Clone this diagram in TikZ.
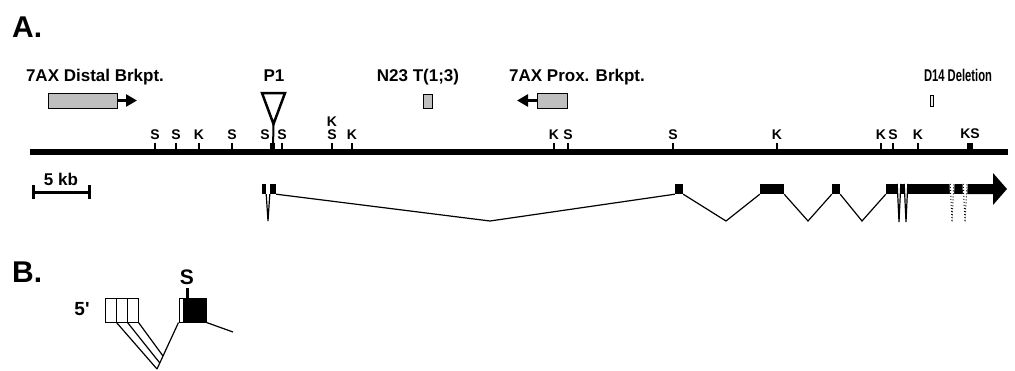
\documentclass[tikz,border=0pt]{standalone}
\usepackage{fontspec}
\setmainfont{Liberation Sans}
\newfontfamily\straightfont{Liberation Sans}
\usetikzlibrary{arrows.meta}

\begin{document}
\begin{tikzpicture}[x=1pt,y=-1pt, every node/.style={inner sep=0pt},
    lab/.style={font=\fontsize{17}{20}\selectfont\bfseries, anchor=base},
    site/.style={font=\fontsize{14}{16}\selectfont\bfseries, anchor=base},
    big/.style={font=\fontsize{30}{32}\selectfont\bfseries, anchor=base west},
    brk/.style={draw, fill=gray!50, line width=0.8pt},
    brkarrow/.style={line width=2.5pt, -{Triangle[length=11pt,width=12pt]}},
    exon/.style={fill=black, minimum height=10pt},
    intron/.style={line width=1.2pt},
    openex/.style={draw, line width=1pt, minimum height=24pt}]

  \useasboundingbox (0,0) rectangle (1015,370);

  % --- A: restriction map ---
  \node[big] (pa) at (12,37) {A.};

  \coordinate (m0) at (30,151.5);
  \coordinate (m1) at (1008,151.5);
  \draw[line width=6pt] (m0) -- (m1);

  \foreach \x/\lab in {155/S,176/S,199/K,232/S,282/S,352/K,554/K,568/S,673/S,777/K,881/K,893/S,918/K}{
    \draw[line width=2.7pt] (\x,143) -- (\x,151);
    \node[site] (s\x) at (\x,139) {\lab};
  }
  \draw[line width=2.7pt] (332,143) -- (332,151);
  \node[site] (s332) at (332,139) {S};
  \node[site] (k332) at (332,126) {K};
  \draw[line width=5pt] (272,143) -- (272,151);
  \node[site] (s272) at (265,139) {S};
  \draw[line width=5.5pt] (970,143) -- (970,151);
  \node[site] (s970) at (970,138) {KS};

  % P1 insertion
  \node[lab] (p1) at (274,81) {P1};
  \coordinate (tri) at (273.5,124);
  \draw[line width=2.5pt, line join=miter] (262,93) -- (285,93) -- (tri) -- cycle;
  \draw[line width=2pt] (tri) -- (273,149);

  % breakpoints
  \node[lab] (tdist) at (95,81) {7AX Distal Brkpt.};
  \node[brk, minimum width=69pt, minimum height=15pt] (dist) at (82.5,100.5) {};
  \coordinate (distend) at (137,100.5);
  \draw[brkarrow] (dist.east) -- (distend);

  \node[lab] (tn23) at (418,81) {N23 T(1;3)};
  \node[brk, minimum width=9pt, minimum height=14pt] (n23) at (427.5,101) {};

  \node[lab] (tprox) at (577,81) {7AX Prox. Brkpt.};
  \node[brk, minimum width=30pt, minimum height=15pt] (prox) at (552,100.5) {};
  \coordinate (proxend) at (517,100.5);
  \draw[brkarrow] (prox.west) -- (proxend);

  \node[lab] (td14) at (958,81) {\scalebox{0.66}[1]{D14 Deletion}};
  \node[brk, fill=gray!15, minimum width=3pt, minimum height=11pt] (d14) at (932,100.5) {};

  % scale bar
  \coordinate (sb0) at (33,192);
  \coordinate (sb1) at (89,192);
  \draw[line width=3pt] (sb0) -- (sb1);
  \draw[line width=3pt] (33,185) -- (33,199);
  \draw[line width=3pt] (89,185) -- (89,199);
  \node[lab] (kb) at (61,185) {5 kb};

  % gene model
  \node[exon, minimum width=4pt] (e1a) at (264,189) {};
  \node[exon, minimum width=6pt] (e1b) at (273,189) {};
  \node[exon, minimum width=8pt] (e2) at (679,189) {};
  \node[exon, minimum width=24pt] (e3) at (772,189) {};
  \node[exon, minimum width=8pt] (e4) at (836,189) {};
  \node[exon, minimum width=11pt] (e5) at (891.5,189) {};
  \node[exon, minimum width=3pt] (e6) at (902.5,189) {};
  \node[exon, minimum width=42pt] (e7) at (929,189) {};
  \node[exon, minimum width=9pt] (e8) at (958.5,189) {};
  \coordinate (tail) at (967,194);
  \fill (967,184) -- (993,184) -- (993,173) -- (1007,189) -- (993,205) -- (993,194) -- (tail) -- cycle;

  \draw[intron] (e1a.south east) -- (268,221) -- (e1b.south west);
  \draw[intron] (e1b.south east) -- (490,221) -- (e2.south west);
  \draw[intron] (e2.south east) -- (726,221) -- (e3.south west);
  \draw[intron] (e3.south east) -- (808,221) -- (e4.south west);
  \draw[intron] (e4.south east) -- (862,221) -- (e5.south west);
  \draw[intron] (e5.north east) -- (899,222) -- (e6.north west);
  \draw[intron] (e6.north east) -- (906,222) -- (e7.north west);
  \draw[white, line width=1.5pt] (e7.north east) -- (952,222) -- (e8.north west);
  \draw[white, line width=1.5pt] (e8.north east) -- (965,222) -- (967,184);
  \draw[line width=1pt, dotted] (e7.north east) -- (952,222) -- (e8.north west);
  \draw[line width=1pt, dotted] (e8.north east) -- (965,222) -- (967,184);

  % --- B: 5' exons ---
  \node[big] (pb) at (12,282) {B.};
  \node[lab, font=\fontsize{19}{22}\straightfont\bfseries] (five) at (82,315) {5'};
  \node[openex, minimum width=11pt] (bx1) at (110.5,310) {};
  \node[openex, minimum width=11pt] (bx2) at (121.5,310) {};
  \node[openex, minimum width=11pt] (bx3) at (132.5,310) {};
  \node[openex, minimum width=4pt] (bx4) at (181,310) {};
  \node[draw, fill=black, line width=1pt, minimum height=24pt, minimum width=23pt] (bs) at (194.5,310) {};
  \draw[line width=3pt] (187,288) -- (bs.north -| 187,0);
  \node[font=\fontsize{21}{24}\selectfont\bfseries, anchor=base] (bsl) at (187,284) {S};

  \coordinate (bv) at (157,369);
  \draw[intron] (bv) -- (bx4.south west)
    coordinate[pos=0.13] (bw2) coordinate[pos=0.28] (bw3);
  \draw[intron] (bx1.south east) -- (bv);
  \draw[intron] (bx2.south east) -- (bw2);
  \draw[intron] (bx3.south east) -- (bw3);
  \coordinate (btail) at (233,332);
  \draw[intron] (bs.south east) -- (btail);
\end{tikzpicture}
\end{document}
